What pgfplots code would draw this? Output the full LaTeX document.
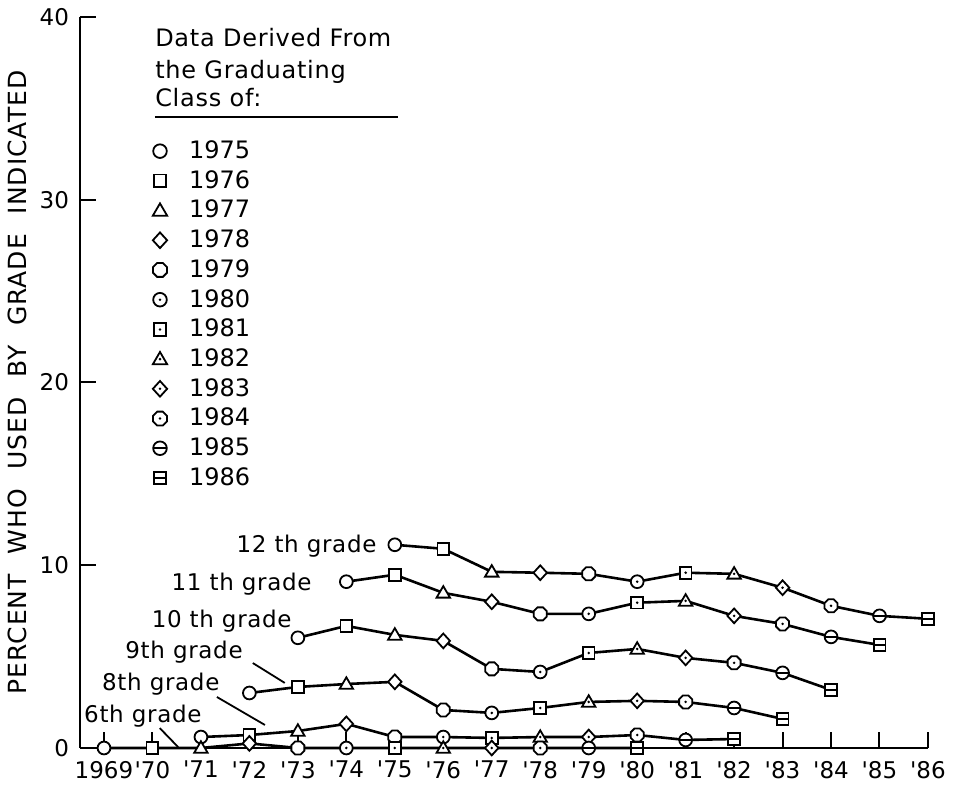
\documentclass[border=0pt]{standalone}
\usepackage{pgfplots}
\usepackage{pgfplotstable}
\pgfplotsset{compat=1.18}
\usepackage{fontspec}
\setmainfont{DejaVu Sans}
\newfontfamily\ylabfont{DejaVu Sans}[LetterSpace=4,WordSpace=2.2]
\newfontfamily\spfont{DejaVu Sans}[LetterSpace=3]

% ---------- marker shapes ----------
\newcommand{\mkO}{\pgfpathcircle{\pgfpointorigin}{\pgfplotmarksize}}
\newcommand{\mkS}{\pgfpathrectanglecorners{\pgfpoint{-0.92\pgfplotmarksize}{-0.92\pgfplotmarksize}}{\pgfpoint{0.92\pgfplotmarksize}{0.92\pgfplotmarksize}}}
\newcommand{\mkT}{\pgfpathmoveto{\pgfpoint{0pt}{1.05\pgfplotmarksize}}\pgfpathlineto{\pgfpoint{-1.05\pgfplotmarksize}{-0.75\pgfplotmarksize}}\pgfpathlineto{\pgfpoint{1.05\pgfplotmarksize}{-0.75\pgfplotmarksize}}\pgfpathclose}
\newcommand{\mkD}{\pgfpathmoveto{\pgfpoint{0pt}{1.15\pgfplotmarksize}}\pgfpathlineto{\pgfpoint{1.05\pgfplotmarksize}{0pt}}\pgfpathlineto{\pgfpoint{0pt}{-1.15\pgfplotmarksize}}\pgfpathlineto{\pgfpoint{-1.05\pgfplotmarksize}{0pt}}\pgfpathclose}
\newcommand{\mkH}{\pgfpathmoveto{\pgfpointpolar{22.5}{1.1\pgfplotmarksize}}%
  \pgfpathlineto{\pgfpointpolar{67.5}{1.1\pgfplotmarksize}}%
  \pgfpathlineto{\pgfpointpolar{112.5}{1.1\pgfplotmarksize}}%
  \pgfpathlineto{\pgfpointpolar{157.5}{1.1\pgfplotmarksize}}%
  \pgfpathlineto{\pgfpointpolar{202.5}{1.1\pgfplotmarksize}}%
  \pgfpathlineto{\pgfpointpolar{247.5}{1.1\pgfplotmarksize}}%
  \pgfpathlineto{\pgfpointpolar{292.5}{1.1\pgfplotmarksize}}%
  \pgfpathlineto{\pgfpointpolar{337.5}{1.1\pgfplotmarksize}}%
  \pgfpathclose}
\newcommand{\mkdot}{\pgfusepathqfillstroke\pgfscope\pgfsetfillcolor{black}\pgfpathcircle{\pgfpointorigin}{0.7pt}\pgfusepathqfill\endpgfscope}
\newcommand{\mkbar}{\pgfusepathqfillstroke\pgfpathmoveto{\pgfpoint{-0.95\pgfplotmarksize}{0pt}}\pgfpathlineto{\pgfpoint{0.95\pgfplotmarksize}{0pt}}\pgfusepathqstroke}
\pgfdeclareplotmark{cO}{\mkO\pgfusepathqfillstroke}
\pgfdeclareplotmark{cS}{\mkS\pgfusepathqfillstroke}
\pgfdeclareplotmark{cT}{\mkT\pgfusepathqfillstroke}
\pgfdeclareplotmark{cD}{\mkD\pgfusepathqfillstroke}
\pgfdeclareplotmark{cH}{\mkH\pgfusepathqfillstroke}
\pgfdeclareplotmark{cOd}{\mkO\mkdot}
\pgfdeclareplotmark{cSd}{\mkS\mkdot}
\pgfdeclareplotmark{cTd}{\mkT\mkdot}
\pgfdeclareplotmark{cDd}{\mkD\mkdot}
\pgfdeclareplotmark{cHd}{\mkH\mkdot}
\pgfdeclareplotmark{cOl}{\mkO\mkbar}
\pgfdeclareplotmark{cSl}{\mkS\mkbar}

\tikzset{mk/.style={draw=black, fill=white, line width=0.9pt}}
\pgfplotsset{
  gradeline/.style={black, line width=1.3pt, forget plot, scatter,
    scatter src=explicit symbolic, mark size=3.2pt,
    scatter/classes={
      a={mark=cO,mk}, b={mark=cS,mk}, c={mark=cT,mk}, d={mark=cD,mk},
      e={mark=cH,mk}, f={mark=cOd,mk}, g={mark=cSd,mk}, h={mark=cTd,mk},
      i={mark=cDd,mk}, j={mark=cHd,mk}, k={mark=cOl,mk}, l={mark=cSl,mk}}},
  leg/.style={only marks, mark=#1, mark size=3.4pt, mark options={draw=black, fill=white, line width=0.9pt}},
}

% ---------- data: year, percent, graduating class (a=1975 ... l=1986) ----------
\pgfplotstableread{
x y c
1975 11.12 a
1976 10.90 b
1977 9.64 c
1978 9.59 d
1979 9.53 e
1980 9.10 f
1981 9.59 g
1982 9.53 h
1983 8.77 i
1984 7.78 j
1985 7.23 k
1986 7.07 l
}\gTwelve
\pgfplotstableread{
x y c
1974 9.10 a
1975 9.48 b
1976 8.49 c
1977 8.00 d
1978 7.34 e
1979 7.34 f
1980 7.95 g
1981 8.05 h
1982 7.23 i
1983 6.79 j
1984 6.08 k
1985 5.64 l
}\gEleven
\pgfplotstableread{
x y c
1973 6.03 a
1974 6.68 b
1975 6.19 c
1976 5.86 d
1977 4.33 e
1978 4.16 f
1979 5.20 g
1980 5.42 h
1981 4.93 i
1982 4.66 j
1983 4.11 k
1984 3.18 l
}\gTen
\pgfplotstableread{
x y c
1972 3.01 a
1973 3.34 b
1974 3.50 c
1975 3.62 d
1976 2.08 e
1977 1.92 f
1978 2.19 g
1979 2.52 h
1980 2.58 i
1981 2.52 j
1982 2.19 k
1983 1.59 l
}\gNine
\pgfplotstableread{
x y c
1971 0.60 a
1972 0.71 b
1973 0.93 c
1974 1.32 d
1975 0.60 e
1976 0.60 f
1977 0.55 g
1978 0.60 h
1979 0.60 i
1980 0.71 j
1981 0.44 k
1982 0.49 l
}\gEight
\pgfplotstableread{
x y c
1969 0.00 a
1970 0.00 b
1971 0.00 c
1972 0.25 d
1973 0.00 e
1974 0.00 f
1975 0.00 g
1976 0.00 h
1977 0.00 i
1978 0.00 j
1979 0.00 k
1980 0.00 l
}\gSix

\begin{document}
\begin{tikzpicture}
\begin{axis}[
  at={(0,0)}, anchor=south west,
  scale only axis, width=424pt, height=365.5pt,
  xmin=1968.505, xmax=1986, ymin=0, ymax=40,
  axis lines=left, axis line style={-, line width=1.4pt},
  clip=false,
  xtick={1969,...,1986},
  xticklabels={1969,{\textquotesingle}70,{\textquotesingle}71,{\textquotesingle}72,{\textquotesingle}73,{\textquotesingle}74,{\textquotesingle}75,{\textquotesingle}76,{\textquotesingle}77,{\textquotesingle}78,{\textquotesingle}79,{\textquotesingle}80,{\textquotesingle}81,{\textquotesingle}82,{\textquotesingle}83,{\textquotesingle}84,{\textquotesingle}85,{\textquotesingle}86},
  ytick={0,10,20,30,40},
  tick align=inside, major tick length=8pt,
  tick style={line width=1pt, black},
  /pgf/number format/assume math mode=true,
  xticklabel style={font=\fontsize{11.5}{13}\selectfont, yshift=-3pt},
  yticklabel style={font=\fontsize{11.5}{13}\selectfont, xshift=-2pt},
  ylabel={PERCENT WHO USED BY GRADE INDICATED},
  ylabel style={font=\ylabfont\fontsize{12.5}{14}\selectfont, at={(axis description cs:-0.0743,0.5)}, anchor=center},
  legend style={at={(axis cs:1970.0,33.47)}, anchor=north west, draw=none, fill=none,
    font=\fontsize{12}{13}\selectfont, row sep=0.45pt, column sep=9pt, inner sep=0pt},
  legend cell align=left,
]
\addplot[gradeline] table[meta=c] {\gTwelve};
\addplot[gradeline] table[meta=c] {\gEleven};
\addplot[gradeline] table[meta=c] {\gTen};
\addplot[gradeline] table[meta=c] {\gNine};
\addplot[gradeline] table[meta=c] {\gEight};
\addplot[gradeline] table[meta=c] {\gSix};

\addlegendimage{leg=cO}\addlegendentry{1975}
\addlegendimage{leg=cS}\addlegendentry{1976}
\addlegendimage{leg=cT}\addlegendentry{1977}
\addlegendimage{leg=cD}\addlegendentry{1978}
\addlegendimage{leg=cH}\addlegendentry{1979}
\addlegendimage{leg=cOd}\addlegendentry{1980}
\addlegendimage{leg=cSd}\addlegendentry{1981}
\addlegendimage{leg=cTd}\addlegendentry{1982}
\addlegendimage{leg=cDd}\addlegendentry{1983}
\addlegendimage{leg=cHd}\addlegendentry{1984}
\addlegendimage{leg=cOl}\addlegendentry{1985}
\addlegendimage{leg=cSl}\addlegendentry{1986}

% header of the key
\begin{scope}[every node/.style={font=\spfont\fontsize{12}{13}\selectfont, inner sep=0pt, anchor=base west}]
\node at (axis cs:1970.05,38.36) {Data Derived From};
\node at (axis cs:1970.05,36.66) {the Graduating};
\node at (axis cs:1970.05,35.08) {Class of:};
\end{scope}
\draw[line width=1pt] (axis cs:1970.05,34.53) -- (axis cs:1975.06,34.53);

% grade labels
\begin{scope}[every node/.style={font=\spfont\fontsize{11.5}{13}\selectfont, inner sep=0pt, anchor=base east}]
\node at (axis cs:1974.63,10.67) {12 th grade};
\node at (axis cs:1973.29,8.64) {11 th grade};
\node at (axis cs:1972.88,6.62) {10 th grade};
\node at (axis cs:1971.87,4.92) {9th grade};
\node at (axis cs:1971.39,3.17) {8th grade};
\node at (axis cs:1971.02,1.42) {6th grade};
\end{scope}
\draw[line width=0.9pt] (axis cs:1972.07,4.65) -- (axis cs:1972.73,3.56);
\draw[line width=0.9pt] (axis cs:1971.33,2.79) -- (axis cs:1972.32,1.26);
\draw[line width=0.9pt] (axis cs:1970.15,1.09) -- (axis cs:1970.53,0.05);
\end{axis}
\pgfresetboundingbox
\path (-40pt,-18.5pt) rectangle (439pt,374pt);
\end{tikzpicture}
\end{document}
